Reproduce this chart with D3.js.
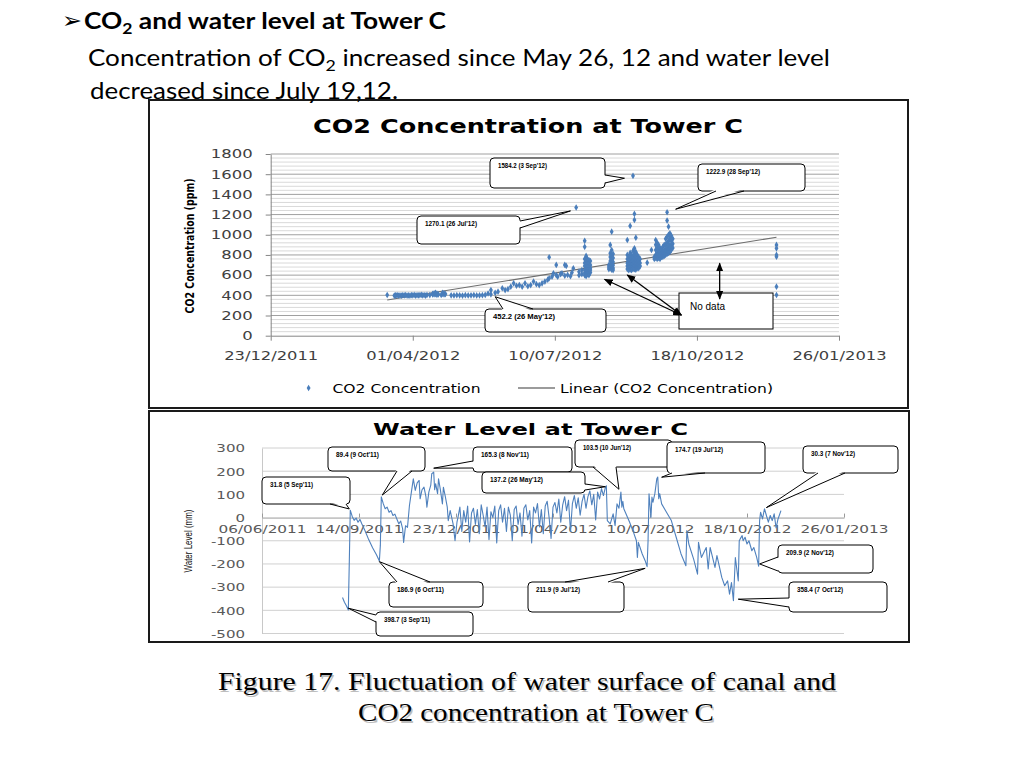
<!DOCTYPE html>
<html><head><meta charset="utf-8">
<script src="https://cdn.jsdelivr.net/npm/d3@7/dist/d3.min.js"></script>
<style>body{margin:0;background:#fff}svg{display:block}</style>
</head><body>
<svg id="c" width="1024" height="768"></svg>
<script>
// ---------------- DATA ----------------
const co2TickDates = ["2011-12-23","2012-04-01","2012-07-10","2012-10-18","2013-01-26"];
const co2YTicks = [0,200,400,600,800,1000,1200,1400,1600,1800];
const co2Dates = [
"2012-03-14","2012-03-19","2012-03-20","2012-03-21","2012-03-22","2012-03-23","2012-03-24","2012-03-25","2012-03-26","2012-03-27",
"2012-03-28","2012-03-29","2012-03-30","2012-03-31","2012-04-01","2012-04-02","2012-04-03","2012-04-04","2012-04-05","2012-04-06",
"2012-04-07","2012-04-08","2012-04-09","2012-04-10","2012-04-11","2012-04-13","2012-04-15","2012-04-16","2012-04-17","2012-04-18",
"2012-04-19","2012-04-21","2012-04-22","2012-04-23","2012-04-24","2012-04-28","2012-04-30","2012-05-02","2012-05-04","2012-05-06",
"2012-05-08","2012-05-10","2012-05-12","2012-05-14","2012-05-16","2012-05-18","2012-05-20","2012-05-22","2012-05-24","2012-05-26",
"2012-05-29","2012-05-31","2012-06-03","2012-06-05","2012-06-07","2012-06-09","2012-06-11","2012-06-13","2012-06-15","2012-06-17",
"2012-06-19","2012-06-21","2012-06-23","2012-06-25","2012-06-27","2012-06-29","2012-07-01","2012-07-03","2012-07-05","2012-07-06",
"2012-07-08","2012-07-09","2012-07-11","2012-07-12","2012-07-14","2012-07-15","2012-07-17","2012-07-18","2012-07-19","2012-07-21",
"2012-07-22","2012-07-23","2012-07-25","2012-07-27","2012-07-29",
"2012-07-31","2012-08-01","2012-08-02","2012-08-03","2012-08-04",
"2012-08-17","2012-08-18","2012-08-19","2012-08-20",
"2012-08-30","2012-08-31","2012-09-01","2012-09-02","2012-09-03","2012-09-04","2012-09-05","2012-09-06","2012-09-07","2012-09-08",
"2012-09-13","2012-09-16",
"2012-09-18","2012-09-19","2012-09-20","2012-09-21","2012-09-22","2012-09-23","2012-09-24","2012-09-25","2012-09-26","2012-09-27",
"2012-09-28","2012-09-29","2012-09-30","2012-10-01",
"2012-12-13"];
const co2Values = [
[403],[398],[400,396],[402],[398],[400],[396],[401],[399],[403],
[398],[400],[397],[402],[400],[404],[398],[401],[399],[402],
[405],[400],[403],[398],[404],[402],[408,415],[420,410],[425,412],[418,405],
[410],[404],[415,425],[420,408],[412],[400],[399],[401],[400],[398],
[401],[399],[400],[402],[399],[400],[401],[404],[418],[452.2,410],
[425],[436],[470],[452],[462],[486],[519],[495],[502],[486],
[519],[490],[502],[536],[510],[502],[519],[536],[555],[569,777],
[585],[618],[701,600],[585],[610],[618],[701,595],[691],[602],[590],
[625],[668],[1270.1],[634,600],[651,610],
[940,880,760,720,690,650,620,600],[790,770,740,710,680,660,640,610,590],[760,730,700,670,650,630,610],[750,720,690,660,640,620,600],[740,700,670,650,625],
[700,680,660],[899,817,780,740,700,668],[1031,849,800,760,720,690,655],[810,770,730,700,670,650],
[948,800,760,720,690,660],[780,740,700,670,650],[1087,820,790,750,710,680,655],[800,770,730,700,670,650],[1584.2,840,780,740,710,680,660],[1206,1147,866,810,760,720,690,660],[971,830,790,750,710,680,655],[800,760,730,700,670],[780,740,700,668],[760,720,690],
[723],[849],
[780,760],[948,900,850,800,770],[920,870,820,790,760],[900,850,800,770],[870,830,790,760],[850,810,780],[880,830,800,780],[900,850,810,790],[960,900,850,820,800],[1222.9,1140,980,920,870,830,810],
[1080,1000,940,890,850,820],[1015,981,950,900,860,830],[990,940,890,850],[960,910,870],
[899,866,800,783,486,403]];
const co2TrendDates = ["2012-03-14","2012-12-13"];
const co2TrendValues = [353, 975];
const co2NoteLabels = ["1584.2 (3 Sep'12)","1222.9 (28 Sep'12)","1270.1 (26 Jul'12)","452.2 (26 May'12)"];
const co2NoteDates = ["2012-08-28","2012-10-03","2012-07-21","2012-05-29"];
const co2NoteValues = [1560, 1253, 1236, 386];
const noDataFromDates = ["2012-08-14","2012-08-30","2012-11-03"];
const noDataFromValues = [559, 602, 717];
const noDataToDates = ["2012-10-07","2012-10-07","2012-11-03"];
const noDataToValues = [205, 205, 364];

const waterTickDates = ["2011-06-06","2011-09-14","2011-12-23","2012-04-01","2012-07-10","2012-10-18","2013-01-26"];
const waterYTicks = [-500,-400,-300,-200,-100,0,100,200,300];
const waterDates = [
"2011-08-28","2011-08-30","2011-09-01","2011-09-03","2011-09-04","2011-09-05","2011-09-07","2011-09-09","2011-09-11","2011-09-13",
"2011-09-15","2011-09-17","2011-09-20","2011-09-24","2011-09-28","2011-10-02","2011-10-05","2011-10-06","2011-10-07","2011-10-09",
"2011-10-11","2011-10-13","2011-10-15","2011-10-17","2011-10-19","2011-10-21","2011-10-23","2011-10-25","2011-10-27","2011-10-29",
"2011-10-30","2011-11-01","2011-11-03","2011-11-05",
"2011-11-07","2011-11-09","2011-11-11","2011-11-13","2011-11-15","2011-11-16","2011-11-18","2011-11-20","2011-11-22","2011-11-23",
"2011-11-25","2011-11-27","2011-11-28","2011-11-30","2011-12-01","2011-12-02","2011-12-04","2011-12-05","2011-12-07","2011-12-09",
"2011-12-10","2011-12-12","2011-12-14","2011-12-15","2011-12-17","2011-12-20","2011-12-22","2011-12-24",
"2011-12-25","2011-12-27","2011-12-29","2011-12-31",
"2012-01-02","2012-01-04","2012-01-06","2012-01-08","2012-01-10","2012-01-12","2012-01-14","2012-01-16","2012-01-18","2012-01-20","2012-01-22","2012-01-24","2012-01-26","2012-01-28","2012-01-30",
"2012-02-01","2012-02-03","2012-02-05","2012-02-07","2012-02-09","2012-02-11","2012-02-13","2012-02-15","2012-02-17","2012-02-19","2012-02-21","2012-02-23","2012-02-25","2012-02-27","2012-02-29",
"2012-03-02","2012-03-04","2012-03-06","2012-03-08","2012-03-10","2012-03-12","2012-03-14","2012-03-16","2012-03-18","2012-03-20","2012-03-22","2012-03-24","2012-03-26","2012-03-28","2012-03-30",
"2012-04-01","2012-04-03","2012-04-05","2012-04-07","2012-04-09","2012-04-11","2012-04-13","2012-04-15","2012-04-17","2012-04-19","2012-04-21","2012-04-23","2012-04-25","2012-04-27","2012-04-29",
"2012-05-01","2012-05-03","2012-05-05","2012-05-07","2012-05-09","2012-05-11","2012-05-13","2012-05-15","2012-05-17","2012-05-19","2012-05-21","2012-05-23","2012-05-25","2012-05-26",
"2012-05-27","2012-05-30","2012-06-02","2012-06-04","2012-06-06","2012-06-08","2012-06-10","2012-06-11","2012-06-12","2012-06-13",
"2012-06-16","2012-06-19","2012-06-23","2012-06-26","2012-06-27","2012-06-28","2012-07-02","2012-07-05","2012-07-07","2012-07-08",
"2012-07-09","2012-07-11","2012-07-12","2012-07-13","2012-07-15","2012-07-17","2012-07-18","2012-07-19","2012-07-20","2012-07-22",
"2012-07-27","2012-08-01","2012-08-06","2012-08-11","2012-08-16","2012-08-17","2012-08-19","2012-08-24","2012-08-28","2012-08-29",
"2012-09-01","2012-09-06","2012-09-08","2012-09-10","2012-09-15","2012-09-17","2012-09-22","2012-09-25","2012-09-28","2012-09-30",
"2012-10-02","2012-10-04","2012-10-06","2012-10-09","2012-10-10","2012-10-11","2012-10-13","2012-10-14","2012-10-16","2012-10-18",
"2012-10-20","2012-10-23","2012-10-25","2012-10-28","2012-10-30","2012-10-31","2012-11-01","2012-11-03","2012-11-05","2012-11-07",
"2012-11-09","2012-11-11","2012-11-13","2012-11-15","2012-11-17","2012-11-19","2012-11-22"];
const waterValues = [
-345,-365,-380,-398.7,-190,31.8,5,-12,-2,-20,
-8,-28,-55,-95,-130,-160,-186.9,-120,89.4,60,
38,45,23,30,9,15,-6,-27,-15,-49,
-107,-35,-42,52,
110,167,117,150,160,81,120,131,90,45,
110,140,189,196,120,146,103,167,117,59,
131,90,45,-13,30,-27,-100,-20,
0,45,-60,30,
-20,50,-105,20,40,-30,35,-70,55,10,-40,45,-95,25,0,
50,-110,30,55,-20,40,-60,45,10,-100,35,50,-30,20,-80,
40,55,-10,30,-110,45,20,60,-40,35,-70,50,70,0,-90,
45,65,20,80,-20,55,90,30,75,-60,60,95,40,85,10,
70,100,40,90,115,55,100,-10,110,80,125,95,130,137.2,
-13,-27,16,-35,59,40,110,45,70,38,
9,-20,-64,-100,-172,-107,-157,-186,-211.9,-100,
103,1,88,66,103,167,174.7,81,103,59,
23,-13,-85,-157,-208,-56,-114,-179,-244,-107,
-172,-129,-222,-129,-215,-164,-258,-294,-273,-330,
-280,-358.4,-172,-273,-100,-92,-78,-100,-85,-114,
-100,-143,-129,-172,-209.9,-13,23,-6,38,9,
-20,9,-13,16,-45,-6,30];
const waterNoteLabels = ["31.8 (5 Sep'11)","89.4 (9 Oct'11)","165.3 (8 Nov'11)","137.2 (26 May'12)","103.5 (10 Jun'12)","174.7 (19 Jul'12)","30.3 (7 Nov'12)","186.9 (6 Oct'11)","398.7 (3 Sep'11)","211.9 (9 Jul'12)","209.9 (2 Nov'12)","358.4 (7 Oct'12)"];
const waterNoteDates = ["2011-09-04","2011-10-08","2011-11-30","2012-05-25","2012-06-08","2012-07-22","2012-11-07","2011-10-05","2011-09-03","2012-07-05","2012-10-31","2012-10-09"];
const waterNoteValues = [37,97,213,133,122,174,43,-190,-391,-219,-200,-352];

// ---------------- LAYOUT (annotation boxes [x,y,w,h], wedge base points, text widths) ----------------
const co2NoteBoxes = [[490,158,115,30],[698,164,107,27],[417,216,103,28],[485,309,121,23]];
const co2NoteBases = [[[605,175],[605,183]],[[716,191],[744,191]],[[520,221],[520,228]],[[503,309],[533,309]]];
const co2NoteW = [49,54,52,62];
const waterNoteBoxes = [[262,477,88,27],[328,447,97,24],[473,447,99,25],[482,472,103,21],[575,440,97,27],[667,442,98,31],[803,446,95,27],[389,582,94,25],[376,612,97,24],[528,582,96,30],[778,545,95,28],[789,582,98,30]];
const waterNoteBases = [[[330,504],[346,504]],[[397,471],[412,471]],[[473,461],[473,468]],[[585,484],[585,490]],[[593,467],[616,467]],[[672,473],[705,473]],[[818,473],[845,473]],[[397,582],[430,582]],[[376,615],[376,622]],[[565,582],[608,582]],[[778,557],[778,571]],[[789,598],[789,607]]];
const waterNoteW = [43,43,48,53,48,48,44,47,46,44,48,46];

// ---------------- DRAW ----------------
const parse = d3.timeParse('%Y-%m-%d');
const fmt = d3.timeFormat('%d/%m/%Y');
const plain = d => String(d);
const svg = d3.select('#c');
const BLUE = '#4a7ebb';
function fit(sel,w){ sel.attr('textLength',w).attr('lengthAdjust','spacingAndGlyphs'); return sel; }
function stretch(sel,k){ sel.each(function(){ const L=this.getComputedTextLength(); d3.select(this).attr('textLength',L*k).attr('lengthAdjust','spacingAndGlyphs'); }); }

// frames
svg.append('rect').attr('x',149).attr('y',100).attr('width',759).attr('height',308).attr('fill','#fff').attr('stroke','#1a1a1a').attr('stroke-width',2);
svg.append('rect').attr('x',149).attr('y',411).attr('width',760).attr('height',231).attr('fill','#fff').attr('stroke','#1a1a1a').attr('stroke-width',2);

// header
const hdr = svg.append('g').attr('font-family','Lato, "Open Sans", sans-serif').attr('fill','#000');
fit(hdr.append('text').attr('x',62).attr('y',28).attr('font-family','"DejaVu Sans"').attr('font-size',22).text('➢'),20);
const t1 = hdr.append('text').attr('x',84).attr('y',29).attr('font-size',22.5).attr('font-weight','bold');
t1.append('tspan').text('CO'); t1.append('tspan').attr('font-size',15).attr('dy',5).text('2'); t1.append('tspan').attr('dy',-5).text(' and water level at Tower C');
fit(t1,362);
const t2 = hdr.append('text').attr('x',88).attr('y',66).attr('font-size',23.5);
t2.append('tspan').text('Concentration of CO'); t2.append('tspan').attr('font-size',16).attr('dy',5).text('2'); t2.append('tspan').attr('dy',-5).text(' increased since May 26, 12 and water level');
fit(t2,742);
fit(hdr.append('text').attr('x',90).attr('y',99).attr('font-size',23.5).text('decreased since July 19,12.'),308);

// caption
const capLines = ["Figure 17.  Fluctuation of water surface of canal and","CO2 concentration at Tower C"];
const capG = svg.append('g').attr('font-family','"Liberation Serif", serif').attr('font-size',25).attr('text-anchor','middle');
[[527,690,618],[536,721,356]].forEach((p,i)=>{
  fit(capG.append('text').attr('x',p[0]+1.5).attr('y',p[1]+1.5).attr('fill','#bdbdbd').text(capLines[i]),p[2]);
  fit(capG.append('text').attr('x',p[0]).attr('y',p[1]).attr('fill','#000').text(capLines[i]),p[2]);
});

// arrow marker
const defs = svg.append('defs');
defs.append('marker').attr('id','ah').attr('viewBox','0 0 10 8').attr('refX',9).attr('refY',4)
  .attr('markerWidth',9).attr('markerHeight',8).attr('markerUnits','userSpaceOnUse').attr('orient','auto-start-reverse')
  .append('path').attr('d','M0,0L10,4L0,8Z').attr('fill','#000');

function callout(g, box, base, tip, label, tw){
  const [x,y,w,h]=box;
  g.append('rect').attr('x',x).attr('y',y).attr('width',w).attr('height',h).attr('rx',4).attr('fill','#fff').attr('stroke','#000').attr('stroke-width',1);
  const [b1,b2]=base;
  let dx=0, dy=0;
  if (b1[1]===b2[1]) dy = (b1[1] <= y+0.5) ? 2 : -2; else dx = (b1[0] <= x+0.5) ? 2 : -2;
  g.append('path').attr('d',`M${b1[0]+dx},${b1[1]+dy}L${tip[0]},${tip[1]}L${b2[0]+dx},${b2[1]+dy}Z`).attr('fill','#fff');
  g.append('path').attr('d',`M${b1[0]},${b1[1]}L${tip[0]},${tip[1]}L${b2[0]},${b2[1]}`).attr('fill','none').attr('stroke','#000').attr('stroke-width',1);
  fit(g.append('text').attr('x',x+8).attr('y',y+9.5).attr('font-family','"Liberation Sans", Arial, sans-serif').attr('font-size',6.5).attr('font-weight','bold').attr('fill','#000').text(label), tw);
}

// ============ CO2 chart ============
const cx = d3.scaleTime().domain([parse(co2TickDates[0]), parse(co2TickDates[co2TickDates.length-1])]).range([270.7,839]);
const cy = d3.scaleLinear().domain([0,1800]).range([335.7,154]);
const cg = svg.append('g');
fit(cg.append('text').attr('x',528).attr('y',133).attr('text-anchor','middle').attr('font-family','"DejaVu Sans", Verdana, sans-serif').attr('font-weight','bold').attr('font-size',19.5).attr('fill','#000').text('CO2 Concentration at Tower C'),430);
cg.append('g').selectAll('line').data(d3.range(40,1800,40).filter(v=>v%200!==0)).join('line')
  .attr('x1',cx.range()[0]).attr('x2',cx.range()[1]).attr('y1',d=>cy(d)).attr('y2',d=>cy(d)).attr('stroke','#cfcfcf').attr('stroke-width',0.8);
cg.append('g').selectAll('line').data(co2YTicks.filter(v=>v>0)).join('line')
  .attr('x1',cx.range()[0]).attr('x2',cx.range()[1]).attr('y1',d=>cy(d)).attr('y2',d=>cy(d)).attr('stroke','#a0a0a0').attr('stroke-width',1);
const cyAxis = cg.append('g').attr('transform',`translate(${cx.range()[0]},0)`)
  .call(d3.axisLeft(cy).tickValues(co2YTicks).tickFormat(plain).tickSize(5).tickSizeOuter(0));
const cxAxis = cg.append('g').attr('transform',`translate(0,${cy(0)})`)
  .call(d3.axisBottom(cx).tickValues(co2TickDates.map(parse)).tickFormat(fmt).tickSize(5).tickSizeOuter(0));
[cyAxis,cxAxis].forEach(a=>{ a.select('.domain').attr('stroke','#868686'); a.selectAll('.tick line').attr('stroke','#868686'); });
cyAxis.selectAll('text').attr('x',-18).attr('font-family','"DejaVu Sans", sans-serif').attr('font-size',12).attr('fill','#404040');
cxAxis.selectAll('text').attr('y',24.5).attr('dy',0).attr('font-family','"DejaVu Sans", sans-serif').attr('font-size',12).attr('fill','#404040');
stretch(cyAxis.selectAll('text'),1.37); stretch(cxAxis.selectAll('text'),1.36);
fit(cg.append('text').attr('transform','translate(194,246) rotate(-90)').attr('text-anchor','middle').attr('font-family','"DejaVu Sans", sans-serif').attr('font-weight','bold').attr('font-size',12.5).attr('fill','#000').text('CO2 Concentration (ppm)'),135);
const trend = co2TrendDates.map((d,i)=>({date:parse(d), v:co2TrendValues[i]}));
cg.append('path').datum(trend).attr('d',d3.line().x(d=>cx(d.date)).y(d=>cy(d.v))).attr('fill','none').attr('stroke','#6e6e6e').attr('stroke-width',1.1);
const pts = [];
co2Dates.forEach((d,i)=>co2Values[i].forEach(v=>pts.push({date:parse(d), v})));
const diamond = d3.symbol(d3.symbolDiamond, 13);
cg.append('g').selectAll('path').data(pts).join('path').attr('d',diamond)
  .attr('transform',d=>`translate(${cx(d.date)},${cy(d.v)})`).attr('fill',BLUE);
cg.append('path').attr('d',diamond).attr('transform','translate(308.6,388)').attr('fill',BLUE);
fit(cg.append('text').attr('x',332.5).attr('y',392.5).attr('font-family','"DejaVu Sans", sans-serif').attr('font-size',12.5).attr('fill','#000').text('CO2 Concentration'),148);
cg.append('line').attr('x1',518).attr('x2',555).attr('y1',388).attr('y2',388).attr('stroke','#7a7a7a').attr('stroke-width',1.5);
fit(cg.append('text').attr('x',560).attr('y',392.5).attr('font-family','"DejaVu Sans", sans-serif').attr('font-size',12.5).attr('fill','#000').text('Linear (CO2 Concentration)'),213);
const cng = cg.append('g');
co2NoteLabels.forEach((lab,i)=>callout(cng, co2NoteBoxes[i], co2NoteBases[i], [cx(parse(co2NoteDates[i])), cy(co2NoteValues[i])], lab, co2NoteW[i]));
cg.append('rect').attr('x',679).attr('y',293).attr('width',94).attr('height',36).attr('fill','#fff').attr('stroke','#000').attr('stroke-width',1);
fit(cg.append('text').attr('x',690).attr('y',310).attr('font-family','"Liberation Sans", Arial, sans-serif').attr('font-size',11).attr('fill','#000').text('No data'),35);
noDataFromDates.forEach((d,i)=>{
  cg.append('line').attr('x1',cx(parse(d))).attr('y1',cy(noDataFromValues[i])).attr('x2',cx(parse(noDataToDates[i]))).attr('y2',cy(noDataToValues[i]))
    .attr('stroke','#000').attr('stroke-width',1.3).attr('marker-start','url(#ah)').attr('marker-end','url(#ah)');
});

// ============ Water chart ============
const wx = d3.scaleTime().domain([parse(waterTickDates[0]), parse(waterTickDates[waterTickDates.length-1])]).range([262,844]);
const wy = d3.scaleLinear().domain([-500,300]).range([633.5,448]);
const wg = svg.append('g');
fit(wg.append('text').attr('x',530.5).attr('y',435).attr('text-anchor','middle').attr('font-family','"DejaVu Sans", Verdana, sans-serif').attr('font-weight','bold').attr('font-size',15.5).attr('fill','#000').text('Water Level at Tower C'),315);
wg.append('g').selectAll('line').data(waterYTicks.filter(v=>v!==0)).join('line')
  .attr('x1',wx.range()[0]).attr('x2',wx.range()[1]).attr('y1',d=>wy(d)).attr('y2',d=>wy(d)).attr('stroke','#d0d0d0').attr('stroke-width',1);
const wyAxis = wg.append('g').attr('transform',`translate(${wx.range()[0]},0)`)
  .call(d3.axisLeft(wy).tickValues(waterYTicks).tickFormat(plain).tickSize(0).tickSizeOuter(0));
wyAxis.select('.domain').attr('stroke','#c8c8c8');
wyAxis.selectAll('text').attr('x',-17).attr('dy','0.38em').attr('font-family','"DejaVu Sans", sans-serif').attr('font-size',10).attr('fill','#595959');
stretch(wyAxis.selectAll('text'),1.5);
const wxAxis = wg.append('g').attr('transform',`translate(0,${wy(0)})`)
  .call(d3.axisBottom(wx).tickValues(waterTickDates.map(parse)).tickFormat(fmt).tickSize(3).tickSizeOuter(0));
wxAxis.select('.domain').attr('stroke','#9a9a9a');
wxAxis.selectAll('.tick line').attr('stroke','#9a9a9a').attr('y2',-4);
wxAxis.selectAll('text').attr('y',15.3).attr('dy',0).attr('font-family','"DejaVu Sans", sans-serif').attr('font-size',9.6).attr('fill','#595959');
fit(wxAxis.selectAll('text'),88);
fit(wg.append('text').attr('transform','translate(191.5,541) rotate(-90)').attr('text-anchor','middle').attr('font-family','"Liberation Sans Narrow", "Liberation Sans", sans-serif').attr('font-size',11.5).attr('fill','#111').text('Water Level (mm)'),63);
const wdata = waterDates.map((d,i)=>({date:parse(d), v:waterValues[i]}));
wg.append('path').datum(wdata).attr('d',d3.line().x(d=>wx(d.date)).y(d=>wy(d.v))).attr('fill','none').attr('stroke','#4f81bd').attr('stroke-width',1.1).attr('stroke-linejoin','round');
const wng = wg.append('g');
waterNoteLabels.forEach((lab,i)=>callout(wng, waterNoteBoxes[i], waterNoteBases[i], [wx(parse(waterNoteDates[i])), wy(waterNoteValues[i])], lab, waterNoteW[i]));
</script>
</body></html>
